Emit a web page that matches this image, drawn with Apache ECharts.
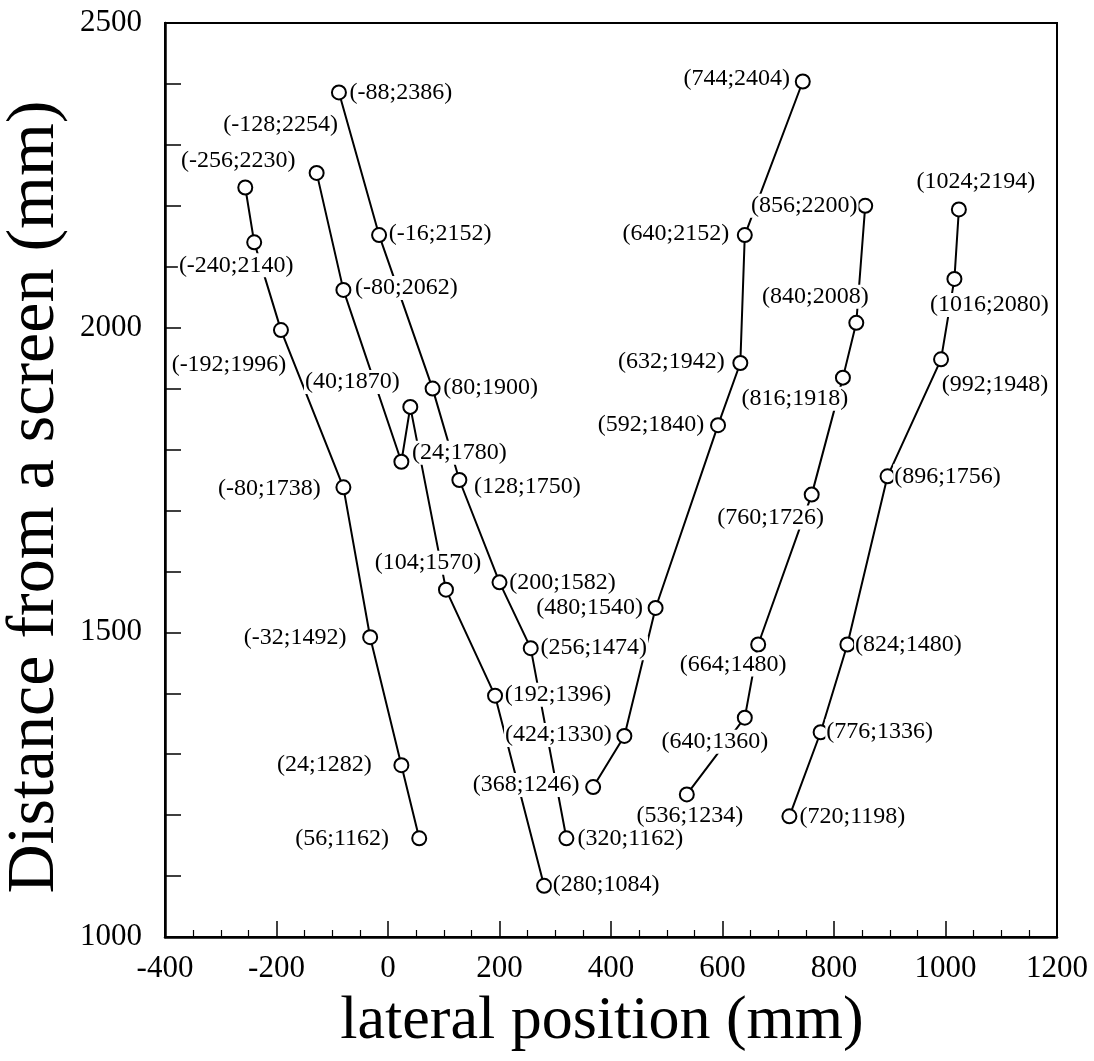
<!DOCTYPE html>
<html>
<head>
<meta charset="utf-8">
<script src="https://cdn.jsdelivr.net/npm/echarts@6/dist/echarts.min.js"></script>
<style>
  html, body { margin: 0; padding: 0; background: #fff; }
  #chart { width: 1094px; height: 1061px; }
</style>
</head>
<body>
<div id="chart"></div>
<script>
// measured points, each walk is one series
const walk1 = [[-256, 2230], [-240, 2140], [-192, 1996], [-80, 1738], [-32, 1492], [24, 1282], [56, 1162]];
const walk2 = [[-128, 2254], [-80, 2062], [24, 1780], [40, 1870], [104, 1570], [192, 1396], [280, 1084]];
const walk3 = [[-88, 2386], [-16, 2152], [80, 1900], [128, 1750], [200, 1582], [256, 1474], [320, 1162]];
const walk4 = [[368, 1246], [424, 1330], [480, 1540], [592, 1840], [632, 1942], [640, 2152], [744, 2404]];
const walk5 = [[536, 1234], [640, 1360], [664, 1480], [760, 1726], [816, 1918], [840, 2008], [856, 2200]];
const walk6 = [[720, 1198], [776, 1336], [824, 1480], [896, 1756], [992, 1948], [1016, 2080], [1024, 2194]];

const xTicks = [-400, -200, 0, 200, 400, 600, 800, 1000, 1200];
const yTicks = [1000, 1500, 2000, 2500];

// where each label sits relative to its circle (label centre offset, px)
const labelShift1 = [[-7, -27], [-18, 23], [-52, 35], [-74, 1], [-75, 0], [-77, 0], [-77, 0]];
const labelShift2 = [[-36, -48], [63, -2], [58, -9], [-58, -25], [-18, -27], [63, -1], [62, -1]];
const labelShift3 = [[62, 0], [61, -1], [58, -1], [68, 7], [63, 0], [63, 0], [64, 0]];
const labelShift4 = [[-67, -2], [-66, -1], [-66, 0], [-67, 0], [-69, -1], [-69, -1], [-66, -3]];
const labelShift5 = [[3, 21], [-30, 24], [-25, 20], [-41, 23], [-48, 21], [-41, -26], [-61, 0]];
const labelShift6 = [[63, 0], [59, -1], [61, 0], [60, 0], [54, 25], [35, 26], [17, -28]];

const walks = [walk1, walk2, walk3, walk4, walk5, walk6];
const shifts = [labelShift1, labelShift2, labelShift3, labelShift4, labelShift5, labelShift6];

const serif = 'Liberation Serif';

const chart = echarts.init(document.getElementById('chart'));

const series = walks.map(function (walk, i) {
    return {
        type: 'line',
        data: walk.map(function (p, j) {
            return { value: p, label: { offset: shifts[i][j] } };
        }),
        symbol: 'circle',
        symbolSize: 14,
        itemStyle: { color: '#fff', borderColor: '#000', borderWidth: 2 },
        lineStyle: { color: '#000', width: 2 },
        label: {
            show: true,
            position: 'inside',
            align: 'center',
            verticalAlign: 'middle',
            fontFamily: serif,
            fontSize: 24,
            color: '#000',
            backgroundColor: '#fff',
            padding: [0, 1],
            formatter: function (p) {
                return '(' + p.value[0] + ';' + p.value[1] + ')';
            }
        },
        emphasis: { disabled: true },
        z: 2
    };
});

const option = {
    animation: false,
    backgroundColor: '#fff',
    grid: {
        left: 165,
        right: 37,
        top: 23,
        bottom: 124,
        outerBoundsMode: 'none',
        show: true,
        borderColor: '#000',
        borderWidth: 2
    },
    xAxis: {
        type: 'value',
        min: xTicks[0],
        max: xTicks[xTicks.length - 1],
        interval: 200,
        name: 'lateral position (mm)',
        nameLocation: 'middle',
        nameGap: 54,
        nameTextStyle: { fontFamily: serif, fontSize: 62, color: '#000', padding: [0, 18, 0, 0] },
        axisLine: { onZero: false, lineStyle: { color: '#000', width: 2.5 } },
        axisTick: { inside: true, length: 16, lineStyle: { color: '#000', width: 1.5 } },
        minorTick: { show: true, splitNumber: 4, length: 7, lineStyle: { color: '#000', width: 1.2 } },
        axisLabel: {
            fontFamily: serif,
            fontSize: 31,
            color: '#000',
            margin: 16,
            formatter: function (v) { return String(v); }
        },
        splitLine: { show: false }
    },
    yAxis: {
        type: 'value',
        min: yTicks[0],
        max: yTicks[yTicks.length - 1],
        interval: 100,
        name: 'Distance from a screen (mm)',
        nameLocation: 'middle',
        nameGap: 90,
        nameTextStyle: { fontFamily: serif, fontSize: 68, color: '#000', padding: [0, 34, 0, 0] },
        axisLine: { onZero: false, lineStyle: { color: '#000', width: 2.5 } },
        axisTick: { inside: true, length: 16, lineStyle: { color: '#000', width: 1.5 } },
        axisLabel: {
            fontFamily: serif,
            fontSize: 31,
            color: '#000',
            margin: 23,
            formatter: function (v) {
                return yTicks.indexOf(v) >= 0 ? String(v) : '';
            }
        },
        splitLine: { show: false }
    },
    series: series
};

chart.setOption(option);
</script>
</body>
</html>
